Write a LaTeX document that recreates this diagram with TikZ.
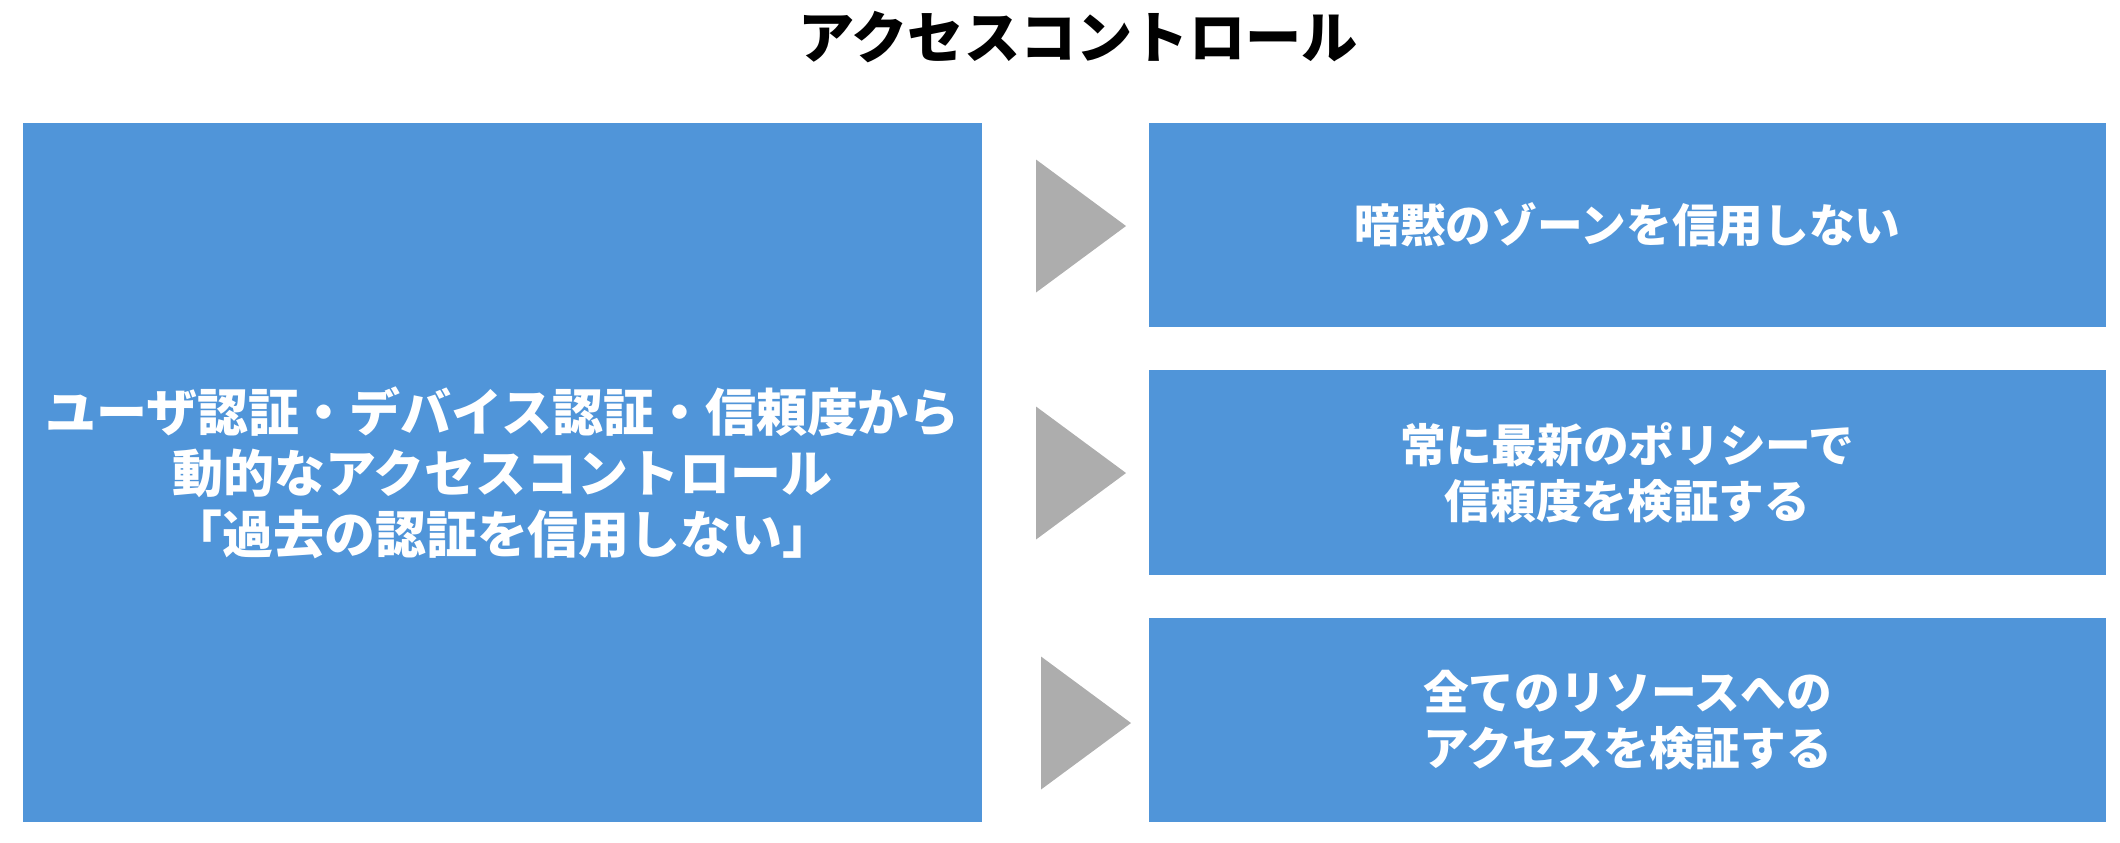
\documentclass[tikz,border=0pt]{standalone}
\usepackage{fontspec}
\setmainfont{Noto Sans CJK JP}
\definecolor{boxblue}{RGB}{80,149,217}
\definecolor{pointergray}{RGB}{173,173,173}
\newcommand{\pointer}[1]{
  \fill[pointergray, #1] (0, 0.665cm) -- (0.9cm, 0) -- (0, -0.665cm) -- cycle;
}

\begin{document}
\begin{tikzpicture}[
  bluebox/.style = {fill = boxblue, text = white, align = center, inner sep = 0,
    font = \bfseries\fontsize{13}{16}\selectfont}
]
  \useasboundingbox (0, 0) rectangle (21.2, -8.42);

  \node[font = \bfseries\fontsize{16}{19}\selectfont] (title) at (10.78, -0.37) {アクセスコントロール};

  \node[bluebox, minimum width = 9.59cm, minimum height = 6.99cm,
    font = \bfseries\fontsize{14.5}{17.4}\selectfont] (control) at (5.025, -4.725)
    {ユーザ認証・デバイス認証・信頼度から\\動的なアクセスコントロール\\「過去の認証を信用しない」};

  \node[bluebox, minimum width = 9.57cm, minimum height = 2.04cm] (zone) at (16.275, -2.25)
    {暗黙のゾーンを信用しない};
  \node[bluebox, minimum width = 9.57cm, minimum height = 2.05cm] (policy) at (16.275, -4.725)
    {常に最新のポリシーで\\信頼度を検証する};
  \node[bluebox, minimum width = 9.57cm, minimum height = 2.04cm] (resource) at (16.275, -7.2)
    {全てのリソースへの\\アクセスを検証する};

  \pointer{shift = {(10.36, -2.26)}}
  \pointer{shift = {(10.36, -4.73)}}
  \pointer{shift = {(10.41, -7.23)}}
\end{tikzpicture}
\end{document}
